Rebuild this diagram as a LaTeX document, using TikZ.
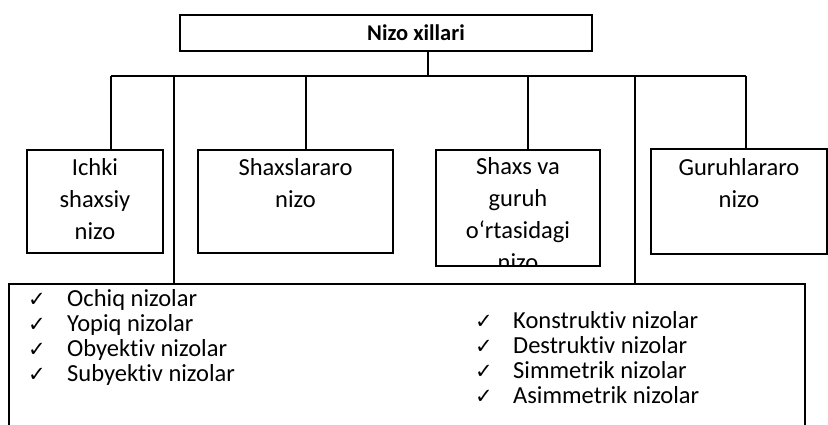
\documentclass[tikz,border=0pt]{standalone}
\usepackage{fontspec}
\setmainfont{Carlito}[Ligatures=NoCommon]
\newfontfamily\djv{DejaVu Sans}
\newcommand{\chk}{{\djv\fontsize{21}{21}\selectfont ✓}}
\newcommand{\chkitem}[2]{\makebox[#1][l]{\chk}#2}
\begin{document}
\begin{tikzpicture}[x=1pt,y=-1pt,
  box/.style={draw=black, line width=1.4pt, inner sep=0pt, align=center,
    font=\fontsize{24.5}{32}\selectfont},
  catbox/.style={box, text depth=5pt},
  titlebox/.style={draw=black, line width=1.4pt, inner sep=0pt,
    font=\fontsize{22.5}{27}\selectfont\bfseries},
  link/.style={draw=black, line width=1.4pt},
  listitem/.style={anchor=base west, inner sep=0pt, font=\fontsize{24.5}{26}\selectfont}]
\useasboundingbox (0,0) rectangle (828,425);
\clip (0,0) rectangle (828,425);

% top box
\node[titlebox, minimum width=412pt, minimum height=36pt] (top) at (386,33) {\hspace*{60pt}Nizo xillari};

% category boxes
\node[catbox, minimum width=136pt, minimum height=103pt] (b1) at (95,201.5) {Ichki\\shaxsiy\\nizo};
\node[catbox, minimum width=195pt, minimum height=103pt] (b2) at (295.5,201.5) {Shaxslararo\\nizo\\\phantom{nizo}};
\node[box, minimum width=164pt, minimum height=116pt] (b3) at (518,208) {};
\begin{scope}
  \clip (b3.south west) rectangle (b3.north east);
  \node[box, draw=none] (b3t) at (518,214) {Shaxs va\\guruh\\o‘rtasidagi\\nizo};
\end{scope}
\node[catbox, minimum width=176pt, minimum height=105pt] (b4) at (739,201.5) {Guruhlararo\\nizo\\\phantom{nizo}};

% bottom box
\node[box, minimum width=796pt, minimum height=160pt] (bb) at (407,364) {};

% junctions
\coordinate (hub) at (428,76);
\coordinate (j1) at (111,76);
\coordinate (j2) at (306,76);
\coordinate (j3) at (528,76);
\coordinate (j4) at (746,76);
\coordinate (L1) at (174,76);
\coordinate (L2) at (635,76);

\draw[link] (top.south -| hub) -- (hub);
\draw[link] (j1) -- (j4);
\draw[link] (j1) -- (b1.north -| j1);
\draw[link] (j2) -- (b2.north -| j2);
\draw[link] (j3) -- (b3.north -| j3);
\draw[link] (j4) -- (b4.north -| j4);
\draw[link] (L1) -- (bb.north -| L1);
\draw[link] (L2) -- (bb.north -| L2);

% lists
\node[listitem] (l1) at (28,306) {\chkitem{39pt}{Ochiq nizolar}};
\node[listitem] (l2) at (28,331) {\chkitem{39pt}{Yopiq nizolar}};
\node[listitem] (l3) at (28,356) {\chkitem{39pt}{Obyektiv nizolar}};
\node[listitem] (l4) at (28,381) {\chkitem{39pt}{Subyektiv nizolar}};

\node[listitem] (r1) at (475,328) {\chkitem{38pt}{Konstruktiv nizolar}};
\node[listitem] (r2) at (475,353) {\chkitem{38pt}{Destruktiv nizolar}};
\node[listitem] (r3) at (475,378) {\chkitem{38pt}{Simmetrik nizolar}};
\node[listitem] (r4) at (475,403) {\chkitem{38pt}{Asimmetrik nizolar}};
\end{tikzpicture}
\end{document}
